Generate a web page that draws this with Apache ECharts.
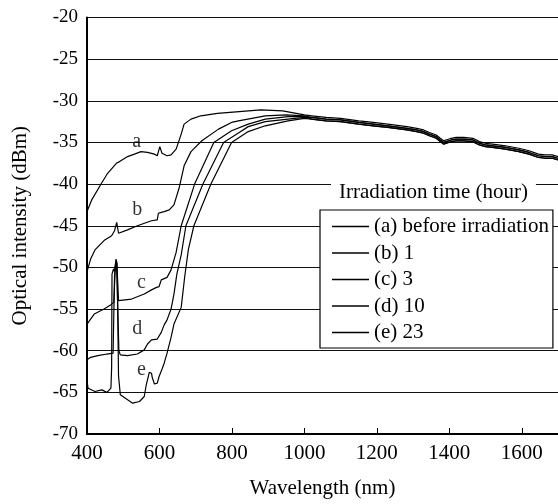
<!DOCTYPE html>
<html>
<head>
<meta charset="utf-8">
<script src="https://cdn.jsdelivr.net/npm/echarts@6/dist/echarts.min.js"></script>
<style>
html,body{margin:0;padding:0;background:#fff;}
#chart{width:558px;height:504px;}
</style>
</head>
<body>
<div id="chart"></div>
<script>
// ---- Data (wavelength nm, optical intensity dBm) ----
var seriesNames = ["(a) before irradiation", "(b) 1", "(c) 3", "(d) 10", "(e) 23"];

var aWl = [400, 413, 440, 457, 481, 490, 512, 531, 549, 567, 586, 594, 601, 607, 621, 632, 646, 660, 668, 687, 714, 760, 820, 880, 940, 1000];
var aDb = [-43.3, -41.9, -39.9, -38.7, -37.5, -37.3, -36.7, -36.4, -36.1, -36.2, -36.4, -36.6, -35.5, -36.3, -36.6, -36.5, -35.8, -34.0, -32.8, -32.2, -31.8, -31.5, -31.3, -31.1, -31.2, -31.7];

var bWl = [400, 410, 422, 449, 468, 476, 482, 487, 512, 539, 578, 594, 597, 605, 613, 627, 640, 654, 668, 687, 717, 763, 799, 818, 892, 950, 1000];
var bDb = [-50.5, -49.0, -47.9, -46.7, -46.2, -45.6, -44.6, -45.9, -45.5, -45.0, -44.4, -44.3, -43.5, -43.4, -43.3, -43.1, -42.5, -40.5, -37.8, -36.1, -34.8, -33.4, -32.6, -32.4, -31.8, -31.7, -31.8];

var cWl = [400, 420, 447, 465, 474, 478, 481, 484, 487, 490, 523, 558, 578, 592, 599, 605, 621, 632, 646, 660, 697, 750, 799, 845, 892, 955, 1000];
var cDb = [-56.8, -55.6, -55.0, -54.5, -54.2, -50.0, -49.2, -51.0, -54.0, -54.2, -53.8, -53.2, -52.7, -52.4, -52.3, -51.5, -51.2, -50.3, -48.2, -45.0, -40.0, -35.0, -33.6, -32.8, -32.2, -31.9, -31.9];

var dWl = [400, 410, 430, 455, 472, 476, 479, 482, 485, 488, 492, 512, 539, 558, 567, 578, 583, 594, 605, 613, 621, 632, 640, 648, 660, 673, 720, 777, 820, 845, 892, 955, 1000];
var dDb = [-61.1, -60.8, -60.6, -60.4, -60.3, -51.0, -49.5, -50.0, -55.0, -60.0, -60.5, -60.6, -60.4, -59.9, -59.2, -58.7, -58.9, -58.6, -57.8, -56.9, -56.3, -55.0, -53.2, -50.8, -48.5, -45.0, -40.0, -35.0, -33.8, -33.1, -32.5, -32.2, -32.0];

var eWl = [400, 403, 422, 441, 455, 466, 468, 469, 473, 476, 480, 483, 485, 487, 492, 496, 509, 526, 545, 558, 564, 572, 578, 580, 586, 594, 599, 608, 613, 621, 632, 640, 660, 670, 680, 695, 742, 799, 845, 892, 955, 1000];
var eDb = [-63.7, -64.5, -64.9, -64.7, -65.0, -64.5, -62.0, -50.8, -50.2, -50.5, -49.0, -49.5, -56.0, -63.0, -65.3, -65.5, -65.8, -66.3, -66.1, -65.5, -64.0, -62.6, -62.7, -63.2, -64.0, -63.9, -63.1, -62.1, -61.5, -60.3, -58.4, -56.8, -54.8, -51.0, -47.8, -45.0, -40.0, -35.0, -33.7, -33.0, -32.4, -32.1];

// long-wavelength part where all curves overlap (thick band): upper edge, middle, lower edge
var tailWl  = [1020, 1060, 1100, 1150, 1190, 1230, 1283, 1310, 1329, 1345, 1364, 1375, 1384, 1392, 1405, 1419, 1440, 1465, 1483, 1500, 1519, 1555, 1592, 1620, 1646, 1665, 1684, 1700];
var tailHi  = [-31.8, -32.0, -32.1, -32.4, -32.6, -32.8, -33.1, -33.3, -33.5, -33.8, -34.1, -34.5, -34.8, -34.7, -34.5, -34.4, -34.4, -34.5, -34.9, -35.1, -35.2, -35.4, -35.7, -36.0, -36.4, -36.5, -36.5, -36.7];
var tailMid = [-32.0, -32.2, -32.3, -32.6, -32.8, -33.0, -33.3, -33.5, -33.7, -34.0, -34.3, -34.7, -35.0, -34.9, -34.7, -34.6, -34.6, -34.7, -35.1, -35.3, -35.4, -35.6, -35.9, -36.2, -36.6, -36.7, -36.7, -36.9];
var tailLo  = [-32.2, -32.4, -32.5, -32.8, -33.0, -33.2, -33.5, -33.7, -33.9, -34.2, -34.5, -34.9, -35.2, -35.1, -34.9, -34.8, -34.8, -34.9, -35.3, -35.5, -35.6, -35.8, -36.1, -36.4, -36.8, -36.9, -36.9, -37.1];

// curve letters placed on the plot
var tagText = ["a", "b", "c", "d", "e"];
var tagWl = [537, 539, 550, 539, 550];
var tagDb = [-34.9, -43.1, -51.8, -57.4, -62.3];

var xTicks = [400, 600, 800, 1000, 1200, 1400, 1600];
var yTicks = [-70, -65, -60, -55, -50, -45, -40, -35, -30, -25, -20];

// ---- Build ----
function pairs(wl, db, tail) {
  var out = [];
  for (var i = 0; i < wl.length; i++) out.push([wl[i], db[i]]);
  for (var j = 0; j < tailWl.length; j++) out.push([tailWl[j], tail[j]]);
  return out;
}
var curves = [[aWl, aDb, tailHi], [bWl, bDb, tailMid], [cWl, cDb, tailLo], [dWl, dDb, tailMid], [eWl, eDb, tailLo]];
var FONT = "Liberation Serif";

var series = curves.map(function (c, i) {
  return {
    name: seriesNames[i],
    type: "line",
    data: pairs(c[0], c[1], c[2]),
    showSymbol: false,
    symbol: "none",
    lineStyle: { color: "#000", width: 1.2 },
    itemStyle: { color: "#000" },
    z: 3
  };
});
var tagData = tagText.map(function (t, i) { return [tagWl[i], tagDb[i], t]; });
series.push({
  name: "tags",
  type: "scatter",
  data: tagData,
  symbolSize: 0,
  label: {
    show: true,
    position: "inside",
    formatter: function (p) { return p.value[2]; },
    fontFamily: FONT,
    fontSize: 20,
    color: "#000"
  },
  z: 5
});

var chart = echarts.init(document.getElementById("chart"), null, { renderer: "canvas" });
chart.setOption({
  animation: false,
  backgroundColor: "#fff",
  grid: { left: 87, top: 17.5, bottom: 66, right: -5, containLabel: false },
  xAxis: {
    type: "value",
    min: xTicks[0],
    max: 1700,
    interval: 200,
    name: "Wavelength (nm)",
    nameLocation: "middle",
    nameGap: 44,
    nameTextStyle: { fontFamily: FONT, fontSize: 21, color: "#000" },
    axisLine: { show: true, lineStyle: { color: "#000", width: 2 } },
    axisTick: { show: true, inside: true, length: 6, lineStyle: { color: "#000", width: 1 } },
    axisLabel: { fontFamily: FONT, fontSize: 21, color: "#000", margin: 9, showMaxLabel: false,
      formatter: function (v) { return String(v); } },
    splitLine: { show: false }
  },
  yAxis: {
    type: "value",
    min: yTicks[0],
    max: yTicks[yTicks.length - 1],
    interval: 5,
    name: "Optical intensity (dBm)",
    nameLocation: "middle",
    nameGap: 56,
    nameTextStyle: { fontFamily: FONT, fontSize: 21, color: "#000" },
    axisLine: { show: true, lineStyle: { color: "#000", width: 2 } },
    axisTick: { show: false },
    axisLabel: { fontFamily: FONT, fontSize: 19, color: "#000", margin: 9,
      formatter: function (v) { return String(v); } },
    splitLine: { show: true, lineStyle: { color: "#111", width: 1.2 } }
  },
  legend: {
    orient: "vertical",
    left: 320,
    top: 210,
    data: seriesNames,
    selectedMode: false,
    backgroundColor: "#fff",
    borderColor: "#000",
    borderWidth: 1.2,
    padding: [6, 4, 5, 12],
    itemWidth: 37,
    itemHeight: 1.3,
    itemGap: 5.5,
    icon: "rect",
    itemStyle: { color: "#000" },
    textStyle: { fontFamily: FONT, fontSize: 21, color: "#000", padding: [0, 0, 0, 0] }
  },
  graphic: [{
    type: "text",
    left: 331,
    top: 182,
    z: 100,
    style: {
      text: "Irradiation time (hour)",
      fontFamily: FONT,
      fontSize: 21,
      fill: "#000",
      backgroundColor: "#fff",
      padding: [0, 8, 0, 8]
    }
  }],
  series: series
});
</script>
</body>
</html>
